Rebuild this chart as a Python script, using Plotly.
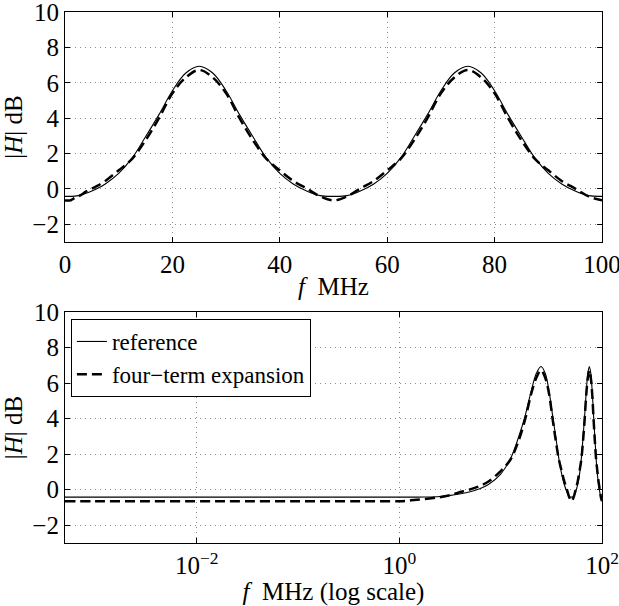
import plotly.graph_objects as go

# Frequencies (MHz)
freq = [0.0005, 0.001, 0.003, 0.01, 0.03, 0.1, 0.3, 0.6, 1.0, 1.3, 1.8, 2.5, 3.2, 3.8,
        5.0, 6.0, 7.5, 10.0, 12.5, 15.0, 17.5, 20.0, 22.5, 25.0, 27.5, 30.0, 32.5, 35.0,
        37.5, 40.0, 42.5, 45.0, 47.5, 50.0, 52.5, 55.0, 57.5, 60.0, 62.5, 65.0, 67.5,
        70.0, 72.5, 75.0, 77.5, 80.0, 82.5, 85.0, 87.5, 90.0, 92.5, 95.0, 97.5, 100.0]

# |H| dB, reference
h_ref = [-0.42, -0.42, -0.42, -0.42, -0.42, -0.42, -0.42, -0.42, -0.42, -0.42, -0.41, -0.38, -0.32, -0.26,
         -0.12, 0.02, 0.28, 0.88, 1.75, 2.95, 4.2, 5.55, 6.55, 6.93, 6.55, 5.55, 4.2, 2.95,
         1.75, 0.88, 0.28, -0.12, -0.38, -0.42, -0.38, -0.12, 0.28, 0.88, 1.75, 2.95, 4.2,
         5.55, 6.55, 6.93, 6.55, 5.55, 4.2, 2.95, 1.75, 0.88, 0.28, -0.12, -0.38, -0.42]

# |H| dB, four-term expansion
h_four = [-0.65, -0.65, -0.65, -0.65, -0.65, -0.65, -0.65, -0.65, -0.65, -0.6, -0.52, -0.42, -0.3, -0.17,
          0.02, 0.17, 0.45, 1.05, 1.7, 2.75, 4.0, 5.4, 6.3, 6.72, 6.3, 5.4, 4.0, 2.75,
          1.7, 1.05, 0.45, 0.02, -0.42, -0.65, -0.42, 0.02, 0.45, 1.05, 1.7, 2.75, 4.0,
          5.4, 6.3, 6.72, 6.3, 5.4, 4.0, 2.75, 1.7, 1.05, 0.45, 0.02, -0.42, -0.65]

y_ticks = [-2, 0, 2, 4, 6, 8, 10]
x_lin_ticks = [0, 20, 40, 60, 80, 100]
x_log_ticks = [0.01, 1, 100]
x_log_text = ["10<sup>−2</sup>", "10<sup>0</sup>", "10<sup>2</sup>"]

FONT = "Liberation Serif, Times New Roman, serif"
FS = 25

fig = go.Figure()

solid = dict(color="black", width=1.1, shape="spline")
dashed = dict(color="black", width=2.5, dash="10px,5px", shape="spline")

fig.add_trace(go.Scatter(x=freq, y=h_ref, mode="lines", line=solid, xaxis="x", yaxis="y",
                         showlegend=False))
fig.add_trace(go.Scatter(x=freq, y=h_four, mode="lines", line=dashed, xaxis="x", yaxis="y",
                         showlegend=False))
fig.add_trace(go.Scatter(x=freq, y=h_ref, mode="lines", line=solid, xaxis="x2", yaxis="y2",
                         name="reference"))
fig.add_trace(go.Scatter(x=freq, y=h_four, mode="lines", line=dashed, xaxis="x2", yaxis="y2",
                         name="four−term expansion"))

axis_common = dict(showline=True, linecolor="black", linewidth=1.2, mirror="ticks",
                   ticks="inside", ticklen=5, tickcolor="black", showgrid=True,
                   gridcolor="#8a8a8a", griddash="1px,4px", gridwidth=1, zeroline=False,
                   automargin=False, ticklabeloverflow="allow",
                   tickfont=dict(family=FONT, size=FS, color="black"))

fig.update_layout(
    template="none",
    width=619, height=606,
    margin=dict(l=65, r=17, t=12, b=63),
    paper_bgcolor="white", plot_bgcolor="white",
    font=dict(family=FONT, size=FS, color="black"),
    xaxis=dict(domain=[0, 1], range=[0, 100], tickvals=x_lin_ticks, anchor="y",
               title=dict(text="<i>f</i>  MHz", standoff=0, font=dict(family=FONT, size=FS)),
               **axis_common),
    yaxis=dict(domain=[0.5669, 1], range=[-3, 10], tickvals=y_ticks, anchor="x",
               title=dict(text="|<i>H</i>| dB", standoff=4, font=dict(family=FONT, size=FS)),
               **axis_common),
    xaxis2=dict(domain=[0, 1], type="log", range=[-3.301, 2], tickvals=x_log_ticks,
                ticktext=x_log_text, anchor="y2",
                title=dict(text="<i>f</i>  MHz (log scale)", standoff=0, font=dict(family=FONT, size=FS)),
                **axis_common),
    yaxis2=dict(domain=[0, 0.435], range=[-3, 10], tickvals=y_ticks, anchor="x2",
                title=dict(text="|<i>H</i>| dB", standoff=4, font=dict(family=FONT, size=FS)),
                **axis_common),
    legend=dict(x=0.011, y=0.435 - (319 - 312) / 531, xanchor="left", yanchor="top",
                xref="paper", yref="paper",
                bgcolor="white", bordercolor="black", borderwidth=1,
                font=dict(family=FONT, size=23, color="black"), tracegroupgap=0,
                itemwidth=30),
)

fig.write_html("out.html", config={"displayModeBar": False},
               post_script="document.body.style.margin='0';document.body.style.padding='0';")
